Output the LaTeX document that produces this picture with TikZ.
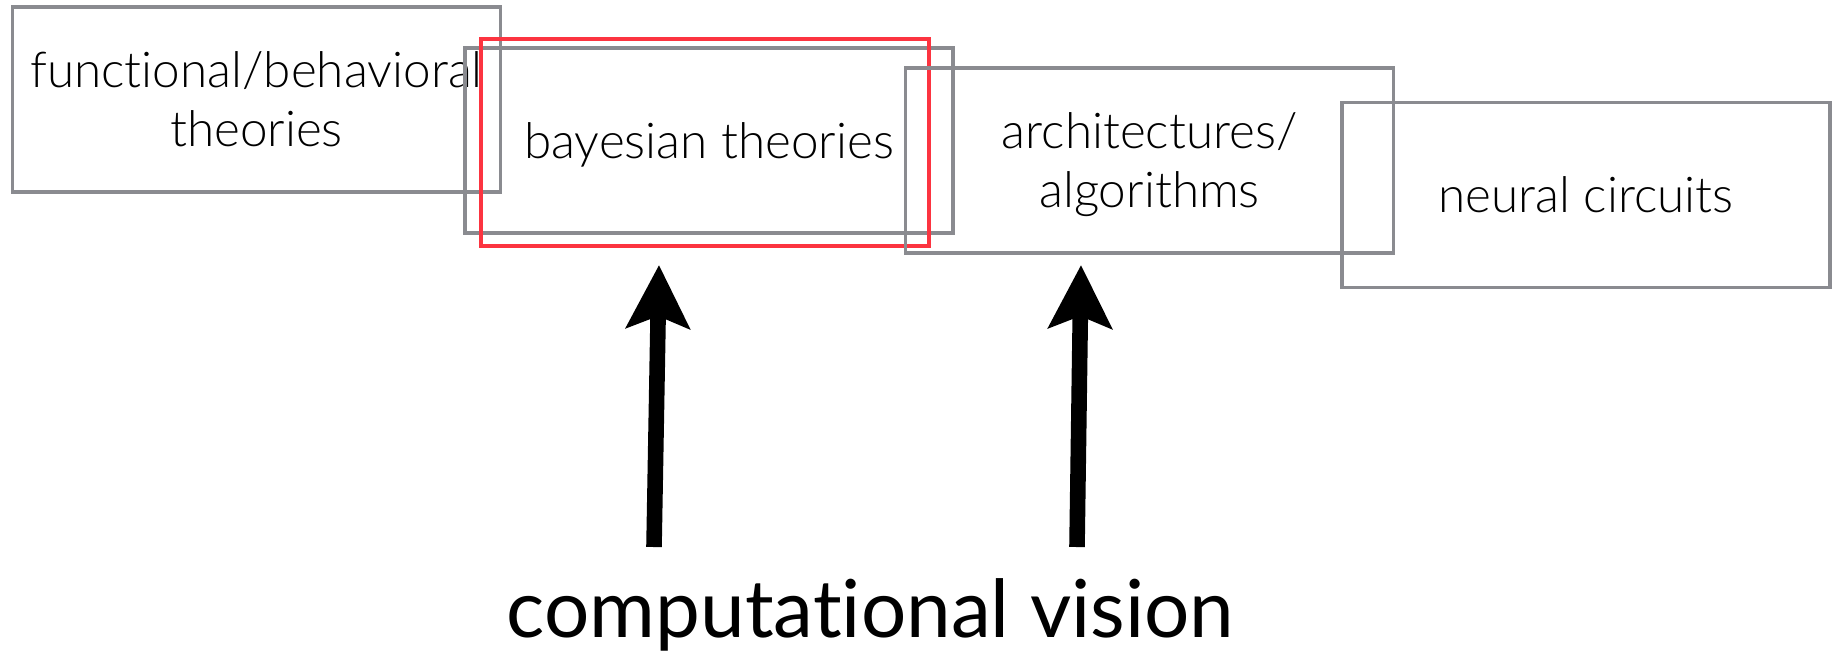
\documentclass[tikz,border=0pt]{standalone}
\usepackage{fontspec}
\setmainfont{Lato}[RawFeature=-liga]
\newfontfamily\lightfont{Lato Light}[RawFeature=-liga]
\usetikzlibrary{arrows.meta, positioning}
\definecolor{boxgray}{RGB}{138,139,144}
\definecolor{boxred}{RGB}{252,52,64}

\begin{document}
\begin{tikzpicture}[x=0.5pt, y=-0.5pt,
    level/.style={draw=boxgray, line width=1.65pt, inner sep=0pt, outer sep=0pt,
      minimum width=244pt, minimum height=92.5pt, align=center, text depth=0pt,
      font=\lightfont\fontsize{24.7}{29.5}\selectfont},
    focus/.style={draw=boxred, line width=1.65pt, inner sep=0pt, outer sep=0pt,
      minimum width=224pt, minimum height=103.5pt},
    cvarrow/.style={-{Stealth[length=31.5pt, width=31.5pt, inset=6pt]}, line width=7.8pt}]

    \useasboundingbox (0,0) rectangle (1840,655);

    \node [level] (func) at (256.5,99.5) {functional/behavioral\\theories};
    \node [level] (bayes) at (709,140.5) {bayesian theories};
    \node [focus] (bayesred) at (705,142.5) {};
    \node [level] (arch) at (1149.5,160.5) {architectures/\\algorithms};
    \node [level] (neural) at (1586,195) {neural circuits};

    \node [anchor=base, font=\fontsize{40}{48}\selectfont] (cv) at (870.5,637) {computational vision};

    \coordinate (t1) at (654,547);
    \coordinate (h1) at (659,265);
    \coordinate (t2) at (1077,547);
    \coordinate (h2) at (1081,265);

 \path[cvarrow]
      (t1) edge (h1)
      (t2) edge (h2);
\end{tikzpicture}
\end{document}
